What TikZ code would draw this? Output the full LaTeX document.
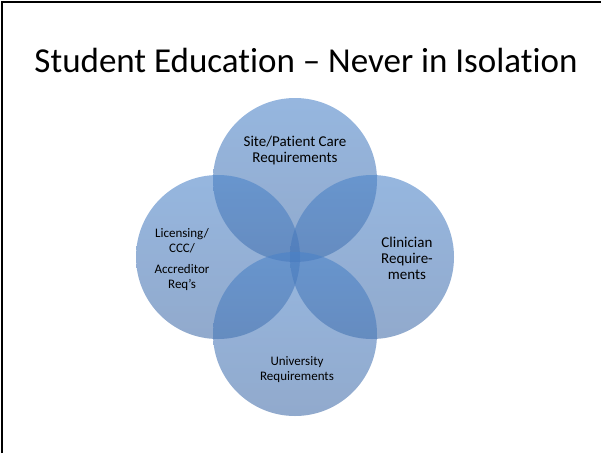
\documentclass[tikz,border=0pt]{standalone}
\usepackage{fontspec}
\setmainfont{Carlito}[Ligatures=NoCommon]
\usepackage{tikz}
\definecolor{accent}{RGB}{74,130,200}
\definecolor{accentlow}{RGB}{66,108,168}

\begin{document}
\begin{tikzpicture}[x=1pt,y=-1pt,
  ring/.style={top color=accent,bottom color=accentlow,fill opacity=0.58,draw=none},
  lbl/.style={align=center,inner sep=0pt,anchor=base,font=\fontsize{13}{15}\selectfont}]
\useasboundingbox (0,0) rectangle (601,453);
\coordinate (T) at (295,180);
\coordinate (L) at (218,257);
\coordinate (R) at (372,257);
\coordinate (B) at (295,334);
% The frame
\draw[line width=2pt] (1.5,453) -- (1.5,2) -- (601,2);

% The title
\node[anchor=base,inner sep=0pt,font=\fontsize{35}{40}\selectfont] (title) at (306,72)
  {Student Education -- Never in Isolation};

% The circles
\foreach \c in {T,L,R,B} {
  \shade[ring] (\c) circle (82);
}

% The labels (base = last line)
\node[lbl,font=\fontsize{15}{15.5}\selectfont] (site) at (295,162)
  {Site/Patient Care\\Requirements};
\node[lbl,font=\fontsize{15}{16}\selectfont] (clin) at (407,279)
  {Clinician\\Require-\\ments};
\node[lbl] (lic) at (182,288)
  {Licensing/\\CCC/\\[6pt]Accreditor\\Req's};
\node[lbl] (univ) at (297,380)
  {University\\Requirements};
\end{tikzpicture}
\end{document}
